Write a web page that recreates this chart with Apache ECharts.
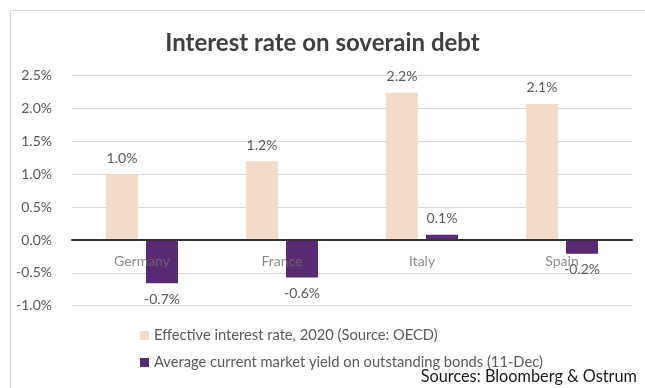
<!DOCTYPE html>
<html>
<head>
<meta charset="utf-8">
<script src="https://cdn.jsdelivr.net/npm/echarts@6/dist/echarts.min.js"></script>
<style>html,body{margin:0;padding:0;background:#fff}#c{width:645px;height:388px}</style>
</head>
<body>
<div id="c"></div>
<script>
const categories = ['Germany', 'France', 'Italy', 'Spain'];
const effectiveRate = [1.0, 1.2, 2.24, 2.07];
const marketYield = [-0.66, -0.57, 0.08, -0.21];
const seriesNames = ['Effective interest rate, 2020 (Source: OECD)', 'Average current market yield on outstanding bonds (11-Dec)'];
const yTicks = { min: -1, max: 2.5, interval: 0.5 };

const FONT = 'Lato';
const chart = echarts.init(document.getElementById('c'), null, { renderer: 'canvas' });
const fmt = p => p.value.toFixed(1) + '%';
const gridTop = 75.7, gridBottom = 82.3, H = 388;
const plotH = H - gridTop - gridBottom;
const zeroOffset = plotH * (0 - yTicks.min) / (yTicks.max - yTicks.min);
chart.setOption({
  animation: false,
  backgroundColor: '#fff',
  title: {
    text: 'Interest rate on soverain debt',
    left: 'center', top: 26,
    textStyle: { fontFamily: FONT, fontSize: 24, fontWeight: 'bold', color: '#404040' }
  },
  graphic: [{
    type: 'rect', shape: { x: 10.5, y: 10.5, width: 700, height: 500 },
    style: { fill: 'none', stroke: '#d9d9d9', lineWidth: 1 }, silent: true
  }, {
    type: 'text', right: 8, top: 369,
    style: { text: 'Sources: Bloomberg & Ostrum', fontFamily: FONT, fontSize: 16.3, fill: '#1a1a1a' }
  }],
  legend: {
    orient: 'vertical', left: 135, top: 323, itemWidth: 9, itemHeight: 9, itemGap: 12,
    icon: 'rect',
    textStyle: { fontFamily: FONT, fontSize: 14.7, color: '#595959' },
    data: seriesNames
  },
  grid: { left: 72, right: 13, top: gridTop, bottom: gridBottom, containLabel: false },
  xAxis: {
    type: 'category', data: categories, z: 5,
    axisLine: { onZero: false, lineStyle: { color: '#333', width: 2 } },
    offset: -zeroOffset,
    axisTick: { show: false },
    axisLabel: { margin: 14, fontFamily: FONT, fontSize: 14, color: 'rgba(110,110,110,0.8)' }
  },
  yAxis: {
    type: 'value', min: yTicks.min, max: yTicks.max, interval: yTicks.interval,
    axisLine: { show: false }, axisTick: { show: false },
    splitLine: { lineStyle: { color: '#d9d9d9', width: 1 } },
    axisLabel: { margin: 20, fontFamily: FONT, fontSize: 14, color: '#595959', formatter: v => v.toFixed(1) + '%' }
  },
  series: [{
    name: seriesNames[0], type: 'bar', data: effectiveRate,
    barWidth: 32, barGap: '25%',
    itemStyle: { color: '#f2dbc8' },
    label: { show: true, position: 'top', distance: 9, fontFamily: FONT, fontSize: 14, color: '#595959', formatter: fmt }
  }, {
    name: seriesNames[1], type: 'bar',
    data: marketYield.map(v => ({ value: v, label: { position: v >= 0 ? 'top' : 'bottom' } })),
    barWidth: 32,
    itemStyle: { color: '#582a72' },
    label: { show: true, distance: 9, fontFamily: FONT, fontSize: 14, color: '#595959', formatter: fmt }
  }]
});
</script>
</body>
</html>
